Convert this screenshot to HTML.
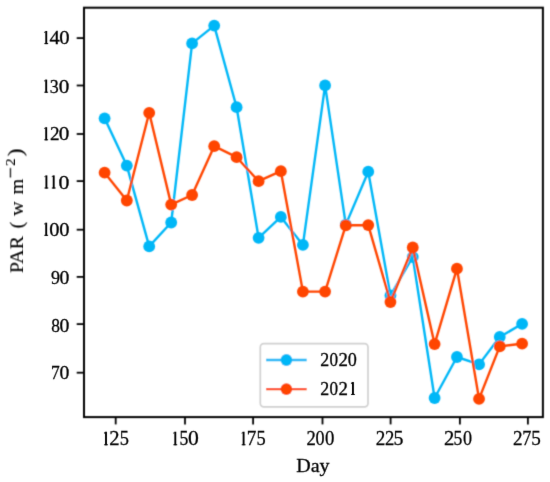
<!DOCTYPE html>
<html><head><meta charset="utf-8"><style>
html,body{margin:0;padding:0;background:#fff;}
svg{display:block;will-change:transform;}
text{font-family:"Liberation Serif",serif;font-size:20px;fill:#000;stroke:#000;stroke-width:0.3;}
.yl text{stroke-width:0.15;}
</style></head><body>
<svg width="550" height="482" viewBox="0 0 550 482">
<defs>
<filter id="bl" x="-5%" y="-5%" width="110%" height="110%"><feConvolveMatrix order="3" kernelMatrix="0.02768 0.11101 0.02768 0.11101 0.44521 0.11101 0.02768 0.11101 0.02768" divisor="1" edgeMode="none" preserveAlpha="false"/></filter>
<filter id="bt" x="-5%" y="-5%" width="110%" height="110%"><feConvolveMatrix order="3" kernelMatrix="0.00524 0.06192 0.00524 0.06192 0.73137 0.06192 0.00524 0.06192 0.00524" divisor="1" edgeMode="none" preserveAlpha="false"/></filter>
</defs>
<rect width="550" height="482" fill="#fff"/>
<g filter="url(#bl)">
<g fill="none" stroke-linejoin="round" stroke-linecap="square">
<polyline points="104.60,118.30 126.80,165.60 149.20,246.40 171.20,222.50 192.10,43.40 214.20,25.60 236.60,107.20 258.60,237.80 280.85,216.90 302.90,244.90 325.10,85.40 345.80,224.60 368.25,171.70 390.45,295.50 412.75,257.00 434.60,398.00 456.95,357.00 479.05,364.40 499.75,337.00 522.10,323.90" stroke="#05B7F7" stroke-width="2.4"/>
</g>
<g><circle cx="104.60" cy="118.30" r="5.9" fill="#05B7F7"/><circle cx="126.80" cy="165.60" r="5.9" fill="#05B7F7"/><circle cx="149.20" cy="246.40" r="5.9" fill="#05B7F7"/><circle cx="171.20" cy="222.50" r="5.9" fill="#05B7F7"/><circle cx="192.10" cy="43.40" r="5.9" fill="#05B7F7"/><circle cx="214.20" cy="25.60" r="5.9" fill="#05B7F7"/><circle cx="236.60" cy="107.20" r="5.9" fill="#05B7F7"/><circle cx="258.60" cy="237.80" r="5.9" fill="#05B7F7"/><circle cx="280.85" cy="216.90" r="5.9" fill="#05B7F7"/><circle cx="302.90" cy="244.90" r="5.9" fill="#05B7F7"/><circle cx="325.10" cy="85.40" r="5.9" fill="#05B7F7"/><circle cx="345.80" cy="224.60" r="5.9" fill="#05B7F7"/><circle cx="368.25" cy="171.70" r="5.9" fill="#05B7F7"/><circle cx="390.45" cy="295.50" r="5.9" fill="#05B7F7"/><circle cx="412.75" cy="257.00" r="5.9" fill="#05B7F7"/><circle cx="434.60" cy="398.00" r="5.9" fill="#05B7F7"/><circle cx="456.95" cy="357.00" r="5.9" fill="#05B7F7"/><circle cx="479.05" cy="364.40" r="5.9" fill="#05B7F7"/><circle cx="499.75" cy="337.00" r="5.9" fill="#05B7F7"/><circle cx="522.10" cy="323.90" r="5.9" fill="#05B7F7"/></g>
<g fill="none" stroke-linejoin="round" stroke-linecap="square">
<polyline points="104.60,172.70 126.80,200.50 149.20,112.80 171.20,204.60 192.10,195.00 214.20,146.20 236.60,157.20 258.60,181.20 280.85,171.20 302.90,291.60 325.10,291.60 345.80,225.30 368.25,225.10 390.45,302.00 412.75,247.50 434.60,344.10 456.95,268.70 479.05,398.90 499.75,346.40 522.10,343.70" stroke="#FF4500" stroke-width="2.4"/>
</g>
<g><circle cx="104.60" cy="172.70" r="5.9" fill="#FF4500"/><circle cx="126.80" cy="200.50" r="5.9" fill="#FF4500"/><circle cx="149.20" cy="112.80" r="5.9" fill="#FF4500"/><circle cx="171.20" cy="204.60" r="5.9" fill="#FF4500"/><circle cx="192.10" cy="195.00" r="5.9" fill="#FF4500"/><circle cx="214.20" cy="146.20" r="5.9" fill="#FF4500"/><circle cx="236.60" cy="157.20" r="5.9" fill="#FF4500"/><circle cx="258.60" cy="181.20" r="5.9" fill="#FF4500"/><circle cx="280.85" cy="171.20" r="5.9" fill="#FF4500"/><circle cx="302.90" cy="291.60" r="5.9" fill="#FF4500"/><circle cx="325.10" cy="291.60" r="5.9" fill="#FF4500"/><circle cx="345.80" cy="225.30" r="5.9" fill="#FF4500"/><circle cx="368.25" cy="225.10" r="5.9" fill="#FF4500"/><circle cx="390.45" cy="302.00" r="5.9" fill="#FF4500"/><circle cx="412.75" cy="247.50" r="5.9" fill="#FF4500"/><circle cx="434.60" cy="344.10" r="5.9" fill="#FF4500"/><circle cx="456.95" cy="268.70" r="5.9" fill="#FF4500"/><circle cx="479.05" cy="398.90" r="5.9" fill="#FF4500"/><circle cx="499.75" cy="346.40" r="5.9" fill="#FF4500"/><circle cx="522.10" cy="343.70" r="5.9" fill="#FF4500"/></g>
<rect x="84.0" y="7.7" width="458.90" height="409.40" fill="none" stroke="#000" stroke-width="2.0" stroke-linejoin="miter"/>
<g stroke="#000" stroke-width="1.8"><line x1="76.70" y1="372.70" x2="84.00" y2="372.70"/><line x1="76.70" y1="324.10" x2="84.00" y2="324.10"/><line x1="76.70" y1="276.90" x2="84.00" y2="276.90"/><line x1="76.70" y1="229.70" x2="84.00" y2="229.70"/><line x1="76.70" y1="181.10" x2="84.00" y2="181.10"/><line x1="76.70" y1="134.00" x2="84.00" y2="134.00"/><line x1="76.70" y1="85.50" x2="84.00" y2="85.50"/><line x1="76.70" y1="38.10" x2="84.00" y2="38.10"/><line x1="115.70" y1="417.10" x2="115.70" y2="424.40"/><line x1="185.00" y1="417.10" x2="185.00" y2="424.40"/><line x1="253.10" y1="417.10" x2="253.10" y2="424.40"/><line x1="322.50" y1="417.10" x2="322.50" y2="424.40"/><line x1="390.60" y1="417.10" x2="390.60" y2="424.40"/><line x1="459.90" y1="417.10" x2="459.90" y2="424.40"/><line x1="527.90" y1="417.10" x2="527.90" y2="424.40"/></g>
<rect x="260.3" y="343.7" width="107.7" height="63.1" rx="3.5" ry="3.5" fill="#fff" fill-opacity="0.8" stroke="#d0d0d0" stroke-width="1.7"/>
<line x1="266.1" y1="360" x2="306.7" y2="360" stroke="#05B7F7" stroke-width="2.4"/>
<circle cx="286.4" cy="360" r="5.9" fill="#05B7F7"/>
<line x1="266.1" y1="389.1" x2="306.7" y2="389.1" stroke="#FF4500" stroke-width="2.4"/>
<circle cx="286.4" cy="389.1" r="5.9" fill="#FF4500"/>
</g>
<g filter="url(#bt)">
<text transform="translate(51.07,378.90) scale(0.898,1)" style="font-size:19.4px">7</text><text transform="translate(59.46,378.90) scale(1.019,1)" style="font-size:19.4px">0</text><text transform="translate(51.25,331.55) scale(0.898,1)" style="font-size:19.4px">8</text><text transform="translate(59.46,331.55) scale(1.019,1)" style="font-size:19.4px">0</text><text transform="translate(51.01,284.18) scale(0.928,1)" style="font-size:19.4px">9</text><text transform="translate(59.46,284.20) scale(1.019,1)" style="font-size:19.4px">0</text><rect x="45.25" y="222.69" width="1.9" height="13.11" fill="#000"/><rect x="44.30" y="234.80" width="3.8" height="1.0" fill="#000"/><path d="M45.25,222.69 L44.15,223.99 L44.35,224.59 L45.25,224.09 Z" fill="#000"/><text transform="translate(49.23,235.80) scale(1.055,1)" style="font-size:19.4px">0</text><text transform="translate(59.13,235.80) scale(1.055,1)" style="font-size:19.4px">0</text><rect x="45.45" y="175.39" width="1.9" height="13.11" fill="#000"/><rect x="44.50" y="187.50" width="3.8" height="1.0" fill="#000"/><path d="M45.45,175.39 L44.35,176.69 L44.55,177.29 L45.45,176.79 Z" fill="#000"/><rect x="52.75" y="175.39" width="1.9" height="13.11" fill="#000"/><rect x="51.80" y="187.50" width="3.8" height="1.0" fill="#000"/><path d="M52.75,175.39 L51.65,176.69 L51.85,177.29 L52.75,176.79 Z" fill="#000"/><text transform="translate(58.48,188.50) scale(1.128,1)" style="font-size:19.4px">0</text><rect x="45.25" y="127.19" width="1.9" height="13.11" fill="#000"/><rect x="44.30" y="139.30" width="3.8" height="1.0" fill="#000"/><path d="M45.25,127.19 L44.15,128.49 L44.35,129.09 L45.25,128.59 Z" fill="#000"/><text transform="translate(49.89,140.38) scale(0.986,1)" style="font-size:19.4px">2</text><text transform="translate(58.81,140.30) scale(1.092,1)" style="font-size:19.4px">0</text><rect x="45.25" y="79.59" width="1.9" height="13.11" fill="#000"/><rect x="44.30" y="91.70" width="3.8" height="1.0" fill="#000"/><path d="M45.25,79.59 L44.15,80.89 L44.35,81.49 L45.25,80.99 Z" fill="#000"/><text transform="translate(49.85,92.68) scale(0.925,1)" style="font-size:19.4px">3</text><text transform="translate(58.81,92.70) scale(1.092,1)" style="font-size:19.4px">0</text><rect x="45.30" y="30.99" width="1.9" height="13.11" fill="#000"/><rect x="44.35" y="43.10" width="3.8" height="1.0" fill="#000"/><path d="M45.30,30.99 L44.20,32.29 L44.40,32.89 L45.30,32.39 Z" fill="#000"/><text transform="translate(49.49,44.13) scale(1.064,1)" style="font-size:19.4px">4</text><text transform="translate(59.32,44.10) scale(1.067,1)" style="font-size:19.4px">0</text><rect x="105.05" y="431.73" width="1.9" height="13.52" fill="#000"/><rect x="104.10" y="444.25" width="3.8" height="1.0" fill="#000"/><path d="M105.05,431.73 L103.95,433.03 L104.15,433.63 L105.05,433.13 Z" fill="#000"/><text transform="translate(109.32,445.32) scale(1.031,1)" style="font-size:20.0px">2</text><text transform="translate(119.64,445.15) scale(0.919,1)" style="font-size:20.0px">5</text><rect x="174.35" y="431.73" width="1.9" height="13.52" fill="#000"/><rect x="173.40" y="444.25" width="3.8" height="1.0" fill="#000"/><path d="M174.35,431.73 L173.25,433.03 L173.45,433.63 L174.35,433.13 Z" fill="#000"/><text transform="translate(179.39,445.15) scale(0.882,1)" style="font-size:20.0px">5</text><text transform="translate(187.99,445.25) scale(1.082,1)" style="font-size:20.0px">0</text><rect x="242.65" y="431.73" width="1.9" height="13.52" fill="#000"/><rect x="241.70" y="444.25" width="3.8" height="1.0" fill="#000"/><path d="M242.65,431.73 L241.55,433.03 L241.75,433.63 L242.65,433.13 Z" fill="#000"/><text transform="translate(246.76,445.25) scale(0.957,1)" style="font-size:20.0px">7</text><text transform="translate(256.54,445.15) scale(0.919,1)" style="font-size:20.0px">5</text><text transform="translate(306.41,445.32) scale(0.932,1)" style="font-size:20.0px">2</text><text transform="translate(315.52,445.25) scale(0.906,1)" style="font-size:20.0px">0</text><text transform="translate(325.09,445.25) scale(0.941,1)" style="font-size:20.0px">0</text><text transform="translate(375.69,445.32) scale(0.957,1)" style="font-size:20.0px">2</text><text transform="translate(384.91,445.32) scale(0.932,1)" style="font-size:20.0px">2</text><text transform="translate(393.56,445.15) scale(0.994,1)" style="font-size:20.0px">5</text><text transform="translate(444.02,445.32) scale(1.031,1)" style="font-size:20.0px">2</text><text transform="translate(453.39,445.15) scale(0.882,1)" style="font-size:20.0px">5</text><text transform="translate(463.02,445.25) scale(0.906,1)" style="font-size:20.0px">0</text><text transform="translate(512.99,445.32) scale(0.957,1)" style="font-size:20.0px">2</text><text transform="translate(522.22,445.25) scale(0.908,1)" style="font-size:20.0px">7</text><text transform="translate(531.20,445.15) scale(0.957,1)" style="font-size:20.0px">5</text>
<text transform="translate(320.34,365.63) scale(0.937,1)" style="font-size:19.1px">2</text><text transform="translate(329.56,365.56) scale(0.899,1)" style="font-size:19.1px">0</text><text transform="translate(338.60,365.63) scale(0.989,1)" style="font-size:19.1px">2</text><text transform="translate(347.82,365.56) scale(0.949,1)" style="font-size:19.1px">0</text><text transform="translate(320.34,395.03) scale(0.937,1)" style="font-size:19.1px">2</text><text transform="translate(329.56,394.96) scale(0.899,1)" style="font-size:19.1px">0</text><text transform="translate(338.60,395.03) scale(0.989,1)" style="font-size:19.1px">2</text><rect x="352.00" y="382.04" width="1.9" height="12.91" fill="#000"/><rect x="351.05" y="393.96" width="3.8" height="1.0" fill="#000"/><path d="M352.00,382.04 L350.90,383.34 L351.10,383.94 L352.00,383.44 Z" fill="#000"/>
<text transform="translate(296.2,471.7) scale(1,0.95)">Day</text>
<g transform="translate(23.0,272.4) rotate(-90) scale(1,0.9)" class="yl">
<text x="-0.7" y="0">PAR</text>
<text x="44.0" y="0">(</text>
<text x="56.6" y="0">w</text>
<text x="78.1" y="0">m</text>
<rect x="94.8" y="-14.55" width="9.6" height="1.3" fill="#000"/>
<text x="106.5" y="-9.5" style="font-size:15px">2</text>
<text x="116.1" y="-0.9" style="font-size:24px">)</text>
</g>
</g>
</svg>
</body></html>
